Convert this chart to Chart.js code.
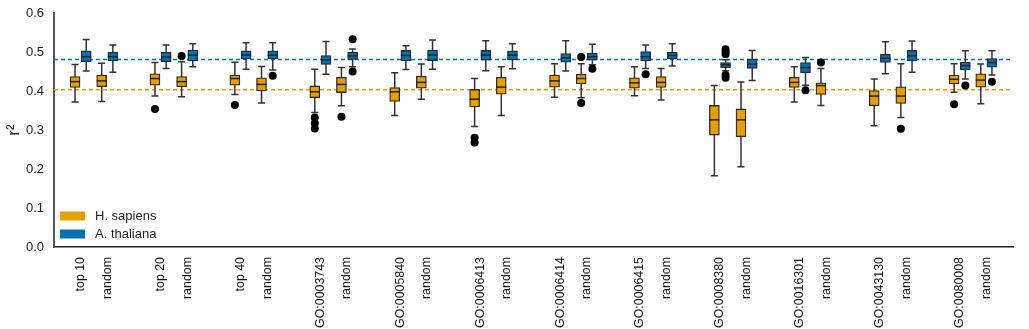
<!DOCTYPE html>
<html>
<head>
<meta charset="utf-8">
<title>r2 boxplots</title>
<script src="https://cdn.jsdelivr.net/npm/chart.js@4.4.1/dist/chart.umd.min.js"></script>
<style>
  html, body { margin: 0; padding: 0; background: #fff; }
  #wrap { width: 1029px; height: 329px; position: relative; }
</style>
</head>
<body>
<div id="wrap"><canvas id="chart"></canvas></div>
<script>
// Catégories (paires : jeu de gènes puis "random")
const categories = [
    'top 10', 'random', 'top 20', 'random', 'top 40', 'random',
    'GO:0003743', 'random', 'GO:0005840', 'random', 'GO:0006413', 'random',
    'GO:0006414', 'random', 'GO:0006415', 'random', 'GO:0008380', 'random',
    'GO:0016301', 'random', 'GO:0043130', 'random', 'GO:0080008', 'random'
];

// H. sapiens : moustache basse, Q1, médiane, Q3, moustache haute
const hsLow  = [0.372, 0.373, 0.387, 0.385, 0.391, 0.369, 0.345, 0.362, 0.337, 0.379, 0.309, 0.337,
                0.384, 0.383, 0.388, 0.377, 0.183, 0.206, 0.372, 0.363, 0.311, 0.332, 0.397, 0.367];
const hsQ1   = [0.409, 0.411, 0.415, 0.411, 0.415, 0.400, 0.383, 0.396, 0.373, 0.407, 0.359, 0.392,
                0.410, 0.418, 0.407, 0.409, 0.287, 0.283, 0.409, 0.391, 0.362, 0.368, 0.418, 0.410];
const hsMed  = [0.424, 0.426, 0.432, 0.424, 0.432, 0.417, 0.398, 0.417, 0.398, 0.422, 0.379, 0.410,
                0.426, 0.432, 0.421, 0.422, 0.326, 0.326, 0.422, 0.414, 0.387, 0.387, 0.430, 0.428];
const hsQ3   = [0.437, 0.441, 0.444, 0.437, 0.441, 0.434, 0.413, 0.435, 0.409, 0.438, 0.404, 0.435,
                0.441, 0.443, 0.434, 0.437, 0.363, 0.354, 0.435, 0.421, 0.401, 0.411, 0.441, 0.444];
const hsHigh = [0.468, 0.471, 0.473, 0.475, 0.474, 0.463, 0.456, 0.460, 0.447, 0.469, 0.432, 0.462,
                0.470, 0.470, 0.462, 0.458, 0.414, 0.423, 0.462, 0.458, 0.431, 0.470, 0.470, 0.469];
const hsOutliers = [
    [2, 0.354], [3, 0.490], [4, 0.364], [6, 0.332], [6, 0.317], [6, 0.304], [7, 0.334],
    [10, 0.280], [10, 0.268], [13, 0.487], [13, 0.369], [19, 0.473], [21, 0.303], [22, 0.366]
];

// A. thaliana (null = pas de boîte)
const atLow  = [0.451, 0.448, 0.458, 0.462, 0.456, 0.454, 0.443, 0.462, 0.455, 0.456, 0.452, 0.457,
                0.451, 0.467, 0.458, 0.464, 0.452, 0.427, 0.415, null, 0.444, 0.448, 0.431, 0.441];
const atQ1   = [0.475, 0.477, 0.475, 0.477, 0.482, 0.482, 0.468, 0.481, 0.477, 0.478, 0.479, 0.480,
                0.474, 0.479, 0.477, 0.482, 0.460, 0.458, 0.447, null, 0.473, 0.477, 0.454, 0.461];
const atMed  = [0.488, 0.488, 0.487, 0.492, 0.492, 0.492, 0.480, 0.490, 0.491, 0.492, 0.492, 0.492,
                0.485, 0.488, 0.488, 0.491, 0.467, 0.469, 0.460, null, 0.484, 0.490, 0.465, 0.473];
const atQ3   = [0.503, 0.499, 0.499, 0.505, 0.503, 0.503, 0.491, 0.499, 0.504, 0.505, 0.504, 0.503,
                0.496, 0.497, 0.501, 0.499, 0.473, 0.482, 0.473, null, 0.494, 0.504, 0.474, 0.483];
const atHigh = [0.532, 0.518, 0.518, 0.521, 0.524, 0.524, 0.527, 0.508, 0.516, 0.531, 0.529, 0.521,
                0.529, 0.520, 0.518, 0.521, 0.480, 0.504, 0.486, null, 0.526, 0.528, 0.503, 0.503];
const atOutliers = [
    [5, 0.439], [7, 0.533], [7, 0.450], [13, 0.457], [14, 0.443],
    [16, 0.507], [16, 0.500], [16, 0.494], [16, 0.441], [16, 0.434],
    [18, 0.402], [22, 0.414], [23, 0.424]
];

// Lignes de référence (pointillés)
const hsBaseline = 0.403;
const atBaseline = 0.481;

const seriesNames = ['H. sapiens', 'A. thaliana'];
const seriesColors = ['#E69F00', '#0072B2'];

// Position sur l'axe x : 3 unités par groupe, 1 unité entre gène et random
const catPos = i => 3 * Math.floor(i / 2) + (i % 2);
const OFFSET = 0.21;
const X_MIN = -1, X_MAX = 35;

function boxData(q1, q3, shift) {
    const out = [];
    categories.forEach((c, i) => {
        if (q1[i] === null) return;
        out.push({ x: catPos(i) + shift, y: [q1[i], q3[i]] });
    });
    return out;
}

function statsFor(low, med, high, shift) {
    const out = [];
    categories.forEach((c, i) => {
        if (low[i] === null) return;
        out.push({ x: catPos(i) + shift, low: low[i], med: med[i], high: high[i] });
    });
    return out;
}

const boxStyle = {
    type: 'bar',
    borderColor: '#2a2a2a',
    borderWidth: 1.3,
    borderSkipped: false,
    barThickness: 10,
    grouped: false,
    order: 1
};

const datasets = [
    Object.assign({}, boxStyle, {
        label: seriesNames[0],
        data: boxData(hsQ1, hsQ3, -OFFSET),
        backgroundColor: seriesColors[0],
        stats: statsFor(hsLow, hsMed, hsHigh, -OFFSET)
    }),
    Object.assign({}, boxStyle, {
        label: seriesNames[1],
        data: boxData(atQ1, atQ3, OFFSET),
        backgroundColor: seriesColors[1],
        stats: statsFor(atLow, atMed, atHigh, OFFSET)
    }),
    {
        type: 'scatter',
        label: 'out1',
        data: hsOutliers.map(o => ({ x: catPos(o[0]) - OFFSET, y: o[1] })),
        pointRadius: 4,
        pointBackgroundColor: '#000',
        pointBorderWidth: 0,
        order: 0
    },
    {
        type: 'scatter',
        label: 'out2',
        data: atOutliers.map(o => ({ x: catPos(o[0]) + OFFSET, y: o[1] })),
        pointRadius: 4,
        pointBackgroundColor: '#000',
        pointBorderWidth: 0,
        order: 0
    },
    {
        type: 'line',
        label: 'base1',
        data: [{ x: X_MIN, y: hsBaseline }, { x: X_MAX, y: hsBaseline }],
        borderColor: seriesColors[0],
        borderWidth: 1.5,
        borderDash: [4, 3],
        pointRadius: 0,
        order: 3
    },
    {
        type: 'line',
        label: 'base2',
        data: [{ x: X_MIN, y: atBaseline }, { x: X_MAX, y: atBaseline }],
        borderColor: seriesColors[1],
        borderWidth: 1.5,
        borderDash: [4, 3],
        pointRadius: 0,
        order: 3
    }
];

// Moustaches (avant les boîtes) et médianes (après)
const boxPlugin = {
    id: 'boxWhiskers',
    beforeDatasetDraw(chart, args) {
        const ds = chart.data.datasets[args.index];
        if (!ds.stats) return;
        const xs = chart.scales.x, ys = chart.scales.y, ctx = chart.ctx;
        ctx.save();
        ctx.strokeStyle = '#333';
        ctx.lineWidth = 1.5;
        ds.stats.forEach(s => {
            const px = xs.getPixelForValue(s.x);
            const yl = ys.getPixelForValue(s.low), yh = ys.getPixelForValue(s.high);
            ctx.beginPath();
            ctx.moveTo(px, yl); ctx.lineTo(px, yh);
            ctx.moveTo(px - 3.5, yl); ctx.lineTo(px + 3.5, yl);
            ctx.moveTo(px - 3.5, yh); ctx.lineTo(px + 3.5, yh);
            ctx.stroke();
        });
        ctx.restore();
    },
    afterDatasetDraw(chart, args) {
        const ds = chart.data.datasets[args.index];
        if (!ds.stats) return;
        const xs = chart.scales.x, ys = chart.scales.y, ctx = chart.ctx;
        ctx.save();
        ctx.strokeStyle = '#222';
        ctx.lineWidth = 1.5;
        ds.stats.forEach(s => {
            const px = xs.getPixelForValue(s.x);
            const pm = ys.getPixelForValue(s.med);
            ctx.beginPath();
            ctx.moveTo(px - 5, pm); ctx.lineTo(px + 5, pm);
            ctx.stroke();
        });
        ctx.restore();
    }
};

// Légende dans le coin bas-gauche de la zone du graphique
const legendPlugin = {
    id: 'innerLegend',
    afterDraw(chart) {
        const ctx = chart.ctx, area = chart.chartArea;
        ctx.save();
        ctx.font = '13px "Liberation Sans", Arial, sans-serif';
        ctx.textBaseline = 'middle';
        [0, 1].forEach(k => {
            const cy = area.bottom - 31 + k * 18;
            ctx.fillStyle = chart.data.datasets[k].backgroundColor;
            ctx.fillRect(area.left + 6, cy - 4.5, 25, 9);
            ctx.fillStyle = '#222';
            ctx.fillText(chart.data.datasets[k].label, area.left + 41, cy);
        });
        ctx.restore();
    }
};

const ctx = document.getElementById('chart');
new Chart(ctx, {
    type: 'bar',
    data: { datasets: datasets },
    plugins: [boxPlugin, legendPlugin],
    options: {
        responsive: true,
        maintainAspectRatio: false,
        animation: false,
        layout: { autoPadding: false, padding: { left: 4, right: 16, top: 13, bottom: 0 } },
        plugins: {
            legend: { display: false },
            tooltip: { enabled: false }
        },
        scales: {
            x: {
                type: 'linear',
                offset: false,
                min: X_MIN,
                max: X_MAX,
                grid: { display: false, drawTicks: false },
                border: { display: true, color: '#222', width: 1.5 },
                afterBuildTicks: scale => {
                    scale.ticks = categories.map((c, i) => ({ value: catPos(i) }));
                },
                afterFit: scale => {
                    scale.height = 82;
                    scale.paddingTop = 0;
                    scale.paddingBottom = 0;
                },
                ticks: {
                    autoSkip: false,
                    maxRotation: 90,
                    minRotation: 90,
                    padding: 10,
                    color: '#111',
                    font: { family: '"Liberation Sans", Arial, sans-serif', size: 12.4 },
                    callback: function(value) {
                        const i = categories.findIndex((c, j) => catPos(j) === value);
                        return i >= 0 ? categories[i] : '';
                    }
                }
            },
            y: {
                min: 0,
                max: 0.6,
                grid: { display: false, drawTicks: false },
                border: { display: true, color: '#555', width: 2 },
                afterFit: scale => {
                    scale.width = 50;
                    scale.paddingTop = 0;
                    scale.paddingBottom = 0;
                },
                ticks: {
                    stepSize: 0.1,
                    padding: 10,
                    color: '#222',
                    font: { family: '"Liberation Sans", Arial, sans-serif', size: 13 },
                    callback: v => v.toFixed(1)
                },
                title: {
                    display: true,
                    text: 'r²',
                    color: '#222',
                    padding: 0,
                    font: { family: '"Liberation Sans", Arial, sans-serif', size: 17 }
                }
            }
        }
    }
});
</script>
</body>
</html>
